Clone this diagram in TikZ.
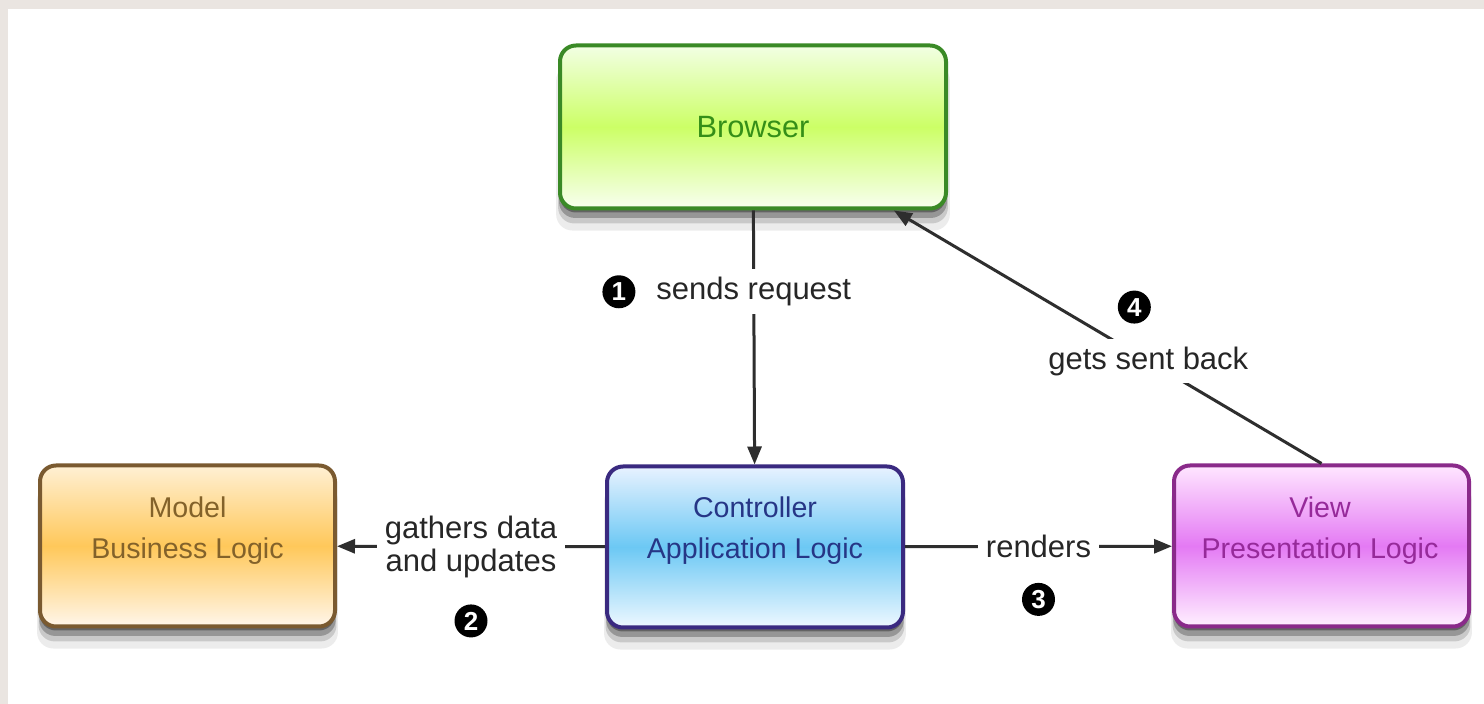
\documentclass[tikz,border=0pt]{standalone}
\usepackage{fontspec}
\setmainfont{Liberation Sans}
\usetikzlibrary{arrows.meta,shadows}
\definecolor{bgbeige}{HTML}{EAE5E1}
\definecolor{labgray}{HTML}{262626}
\definecolor{lineg}{HTML}{2E2E2E}
% Browser
\definecolor{brDraw}{HTML}{3A8A26}
\definecolor{brMid}{HTML}{CCFF66}
\definecolor{brTop}{HTML}{F2FFE4}
\definecolor{brBot}{HTML}{F8FFF0}
\definecolor{brText}{HTML}{358F18}
% Model
\definecolor{moDraw}{HTML}{7A5A30}
\definecolor{moMid}{HTML}{FFC85A}
\definecolor{moTop}{HTML}{FFF0D4}
\definecolor{moBot}{HTML}{FFF6EA}
\definecolor{moText}{HTML}{83622A}
% Controller
\definecolor{coDraw}{HTML}{3A2A80}
\definecolor{coMid}{HTML}{6CC8F4}
\definecolor{coTop}{HTML}{E8F2FF}
\definecolor{coBot}{HTML}{EEF8FF}
\definecolor{coText}{HTML}{263686}
% View
\definecolor{viDraw}{HTML}{8A2A8A}
\definecolor{viMid}{HTML}{E47AF4}
\definecolor{viTop}{HTML}{FFE6FF}
\definecolor{viBot}{HTML}{FFF0FF}
\definecolor{viText}{HTML}{962A9A}
\begin{document}
\begin{tikzpicture}[x=0.5pt,y=-0.5pt,
  shad/.style={
    drop shadow={shadow xshift=0pt, shadow yshift=-2pt, opacity=0.5, fill=black!85},
    drop shadow={shadow xshift=0pt, shadow yshift=-4.5pt, opacity=0.35, fill=black!80, shadow scale=1.005},
    drop shadow={shadow xshift=0pt, shadow yshift=-7pt, opacity=0.2, fill=black!75, shadow scale=1.01},
    drop shadow={shadow xshift=0pt, shadow yshift=-10pt, opacity=0.1, fill=black!70, shadow scale=1.02}},
  box/.style={rectangle, rounded corners=8pt, line width=2pt, inner sep=0pt,
    minimum width=147.5pt, minimum height=80.5pt, shad},
  boxtext/.style={align=center, font=\fontsize{14.3}{20.5}\selectfont},
  conn/.style={draw=lineg, line width=1.5pt, -{Triangle[length=9pt,width=7pt]}},
  lab/.style={fill=white, inner sep=4pt, text=labgray, font=\fontsize{15.5}{16.5}\selectfont},
  numc/.style={circle, fill=black, text=white, inner sep=0pt, minimum size=16.5pt,
    font=\fontsize{13}{13}\selectfont\bfseries},
]
\fill[bgbeige] (0,0) rectangle (1484,704);
\fill[white] (8,9) rectangle (1484,704);
\useasboundingbox (0,0) rectangle (1484,704);

% boxes
\node[box, draw=brDraw, top color=brTop, bottom color=brBot, middle color=brMid,
  minimum width=193pt, minimum height=81.5pt] (browser) at (753,127) {};
\node[text=brText, font=\fontsize{15.4}{18}\selectfont] (browser-t) at (browser.center) {Browser};

\node[box, draw=moDraw, top color=moTop, bottom color=moBot, middle color=moMid] (model) at (187.5,546) {};
\node[boxtext, text=moText] (model-t) at (187.5,531) {Model\\Business Logic};

\node[box, draw=coDraw, top color=coTop, bottom color=coBot, middle color=coMid,
  minimum width=148pt] (controller) at (755,547) {};
\node[boxtext, text=coText] (controller-t) at (755,531) {Controller\\Application Logic};

\node[box, draw=viDraw, top color=viTop, bottom color=viBot, middle color=viMid] (view) at (1321.5,546) {};
\node[boxtext, text=viText] (view-t) at (1320,531) {View\\Presentation Logic};

% connectors
\draw[conn] (browser) -- node[lab, pos=0.32, label={[numc, label distance=5pt]left:1}] {sends request} (controller);
\draw[conn] (controller) -- node[lab, align=center, label={[numc, label distance=8pt]below:2}] {gathers data\\and updates} (model);
\draw[conn] (controller) -- node[lab, label={[numc, label distance=7pt]below:3}] {renders} (view);
\draw[conn] (view.north) -- node[lab, pos=0.405, label={[numc, label distance=6pt, xshift=-7pt]above:4}] {gets sent back} (browser);
\end{tikzpicture}
\end{document}
